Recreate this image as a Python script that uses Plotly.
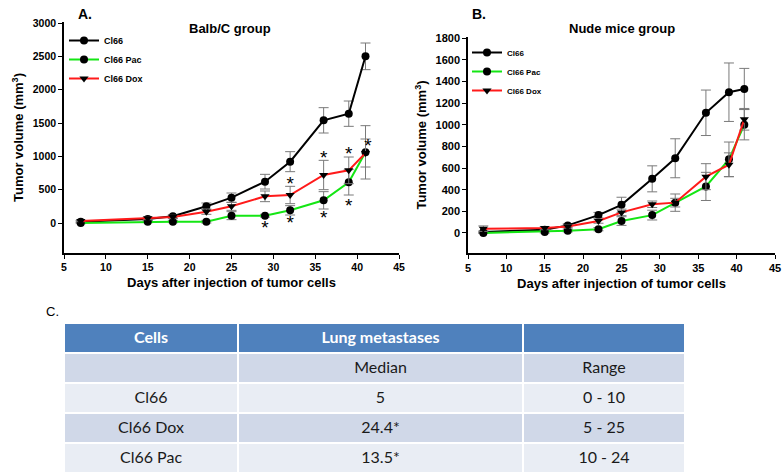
import plotly.graph_objects as go

# ---------------- data ----------------
days = [7, 15, 18, 22, 25, 29, 32, 36, 39, 41]

# Panel A: Balb/C group
a_cl66 = [20, 60, 100, 250, 380, 620, 920, 1540, 1640, 2500]
a_cl66_err = [15, 20, 25, 50, 70, 110, 150, 190, 190, 200]
a_pac = [0, 20, 20, 20, 110, 110, 190, 340, 610, 1060]
a_pac_err = [10, 15, 15, 20, 60, 20, 70, 130, 190, 400]
a_dox = [30, 70, 90, 170, 250, 400, 420, 720, 790, 1050]
a_dox_err = [10, 20, 25, 40, 60, 80, 130, 220, 200, 210]

# significance stars, panel A
a_star_days = [32, 36, 39, 41.3, 29, 32, 36, 39]
a_star_vals = [560, 960, 1020, 1130, -100, -20, 60, 230]

# Panel B: Nude mice group
b_cl66 = [10, 30, 70, 165, 260, 500, 690, 1110, 1300, 1330]
b_cl66_err = [8, 15, 15, 25, 70, 120, 180, 210, 270, 190]
b_pac = [0, 10, 20, 35, 110, 165, 280, 430, 680, 1000]
b_pac_err = [5, 10, 10, 15, 40, 45, 80, 130, 160, 140]
b_dox = [40, 45, 60, 110, 190, 265, 280, 520, 630, 1050]
b_dox_err = [25, 15, 15, 20, 30, 30, 40, 120, 110, 100]

# Panel C table
tbl_header = ["Cells", "Lung metastases", ""]
tbl_cells = ["", "Cl66", "Cl66 Dox", "Cl66 Pac"]
tbl_median = ["Median", "5", "24.4*", "13.5*"]
tbl_range = ["Range", "0 - 10", "5 - 25", "10 - 24"]

# ---------------- styling ----------------
W, H = 783, 475
BLACK = "#000000"
GREEN = "#14e614"
RED = "#ff1a1a"
ERRC = "#7a7a7a"
AX_FONT = "Liberation Sans, Arial, sans-serif"


def px_x(p):
    return p / W


def px_y(p):
    return 1 - p / H


fig = go.Figure()


def add_series(x, y, err, color, symbol, name, xa, ya, legend):
    fig.add_trace(go.Scatter(
        x=x, y=y, name=name, mode="lines+markers",
        line=dict(color=color, width=2),
        marker=dict(color=BLACK, size=8, symbol=symbol),
        error_y=dict(type="data", array=err, visible=True, color=ERRC,
                     thickness=1, width=5),
        xaxis=xa, yaxis=ya, legend=legend,
    ))


add_series(days, a_cl66, a_cl66_err, BLACK, "circle", "Cl66", "x", "y", "legend")
add_series(days, a_pac, a_pac_err, GREEN, "circle", "Cl66 Pac", "x", "y", "legend")
add_series(days, a_dox, a_dox_err, RED, "triangle-down", "Cl66 Dox", "x", "y", "legend")

add_series(days, b_cl66, b_cl66_err, BLACK, "circle", "Cl66", "x2", "y2", "legend2")
add_series(days, b_pac, b_pac_err, GREEN, "circle", "Cl66 Pac", "x2", "y2", "legend2")
add_series(days, b_dox, b_dox_err, RED, "triangle-down", "Cl66 Dox", "x2", "y2", "legend2")

# stars as text trace
fig.add_trace(go.Scatter(
    x=a_star_days, y=a_star_vals, mode="text", text=["*"] * len(a_star_days),
    textfont=dict(family=AX_FONT, size=19, color=BLACK),
    showlegend=False, hoverinfo="skip", xaxis="x", yaxis="y",
))

# table
fig.add_trace(go.Table(
    domain=dict(x=[px_x(64), px_x(685)], y=[0, px_y(323)]),
    columnwidth=[174, 285, 162],
    header=dict(values=tbl_header, fill_color="#4F81BD",
                font=dict(family="Lato, sans-serif", size=16, color="white", weight="bold"),
                align="center", height=30, line=dict(color="white", width=2)),
    cells=dict(values=[tbl_cells, tbl_median, tbl_range],
               fill_color=[["#D0D8E8", "#E9EDF4", "#D0D8E8", "#E9EDF4"]] * 3,
               font=dict(family="Lato, sans-serif", size=16, color="#1a1a1a"),
               align="center", height=30, line=dict(color="white", width=2)),
))

axis_common = dict(
    showline=True, linecolor=BLACK, linewidth=1.5, ticks="outside",
    ticklen=4, tickcolor=BLACK, showgrid=False, zeroline=False,
    automargin=False,
    title_font=dict(family=AX_FONT, size=13, color=BLACK, weight="bold"),
)
tf_a = dict(family=AX_FONT, size=10.5, color=BLACK, weight="bold")
tf_b = dict(family=AX_FONT, size=11, color=BLACK, weight="bold")

ytitle = "Tumor volume (mm<sup>3</sup>)"
xtitle = "Days after injection of tumor cells"

fig.update_layout(
    width=W, height=H, margin=dict(l=0, r=0, t=0, b=0, autoexpand=False),
    paper_bgcolor="white", plot_bgcolor="white",
    xaxis=dict(domain=[px_x(64), px_x(399)], range=[5, 45], dtick=5, tickfont=tf_a,
               anchor="y", title=dict(text=xtitle, standoff=6), **axis_common),
    yaxis=dict(domain=[px_y(253), px_y(22)], range=[-450, 3015], tickfont=tf_a,
               tickvals=[0, 500, 1000, 1500, 2000, 2500, 3000],
               anchor="x", title=dict(text=ytitle, standoff=6), **axis_common),
    xaxis2=dict(domain=[px_x(468), px_x(775)], range=[5, 45], dtick=5, tickfont=tf_b,
                anchor="y2", title=dict(text=xtitle, standoff=6), **axis_common),
    yaxis2=dict(domain=[px_y(253), px_y(37)], range=[-185, 1810], tickfont=tf_b,
                tickvals=[0, 200, 400, 600, 800, 1000, 1200, 1400, 1600, 1800],
                anchor="x2", title=dict(text=ytitle, standoff=6), **axis_common),
    legend=dict(x=px_x(64), y=px_y(26), xanchor="left", yanchor="top",
                bgcolor="rgba(0,0,0,0)", itemwidth=30,
                font=dict(family=AX_FONT, size=9, color=BLACK, weight="bold")),
    legend2=dict(x=px_x(467), y=px_y(38), xanchor="left", yanchor="top",
                 bgcolor="rgba(0,0,0,0)", itemwidth=30,
                 font=dict(family=AX_FONT, size=8, color=BLACK, weight="bold")),
    showlegend=True,
    annotations=[
        dict(text="<b>A.</b>", x=px_x(76), y=px_y(14), xref="paper", yref="paper",
             xanchor="left", yanchor="middle", showarrow=False,
             font=dict(family=AX_FONT, size=14, color=BLACK)),
        dict(text="<b>Balb/C group</b>", x=px_x(230), y=px_y(28), xref="paper", yref="paper",
             xanchor="center", yanchor="middle", showarrow=False,
             font=dict(family=AX_FONT, size=13, color=BLACK)),
        dict(text="<b>B.</b>", x=px_x(470), y=px_y(14), xref="paper", yref="paper",
             xanchor="left", yanchor="middle", showarrow=False,
             font=dict(family=AX_FONT, size=14, color=BLACK)),
        dict(text="<b>Nude mice group</b>", x=px_x(622), y=px_y(28), xref="paper", yref="paper",
             xanchor="center", yanchor="middle", showarrow=False,
             font=dict(family=AX_FONT, size=13, color=BLACK)),
        dict(text="C.", x=px_x(44), y=px_y(311), xref="paper", yref="paper",
             xanchor="left", yanchor="middle", showarrow=False,
             font=dict(family=AX_FONT, size=13, color=BLACK)),
    ],
)

fig.write_html(
    "out.html",
    config={"displayModeBar": False},
    post_script="document.body.style.margin='0';document.body.style.padding='0';"
                "document.body.style.overflow='hidden';",
)
